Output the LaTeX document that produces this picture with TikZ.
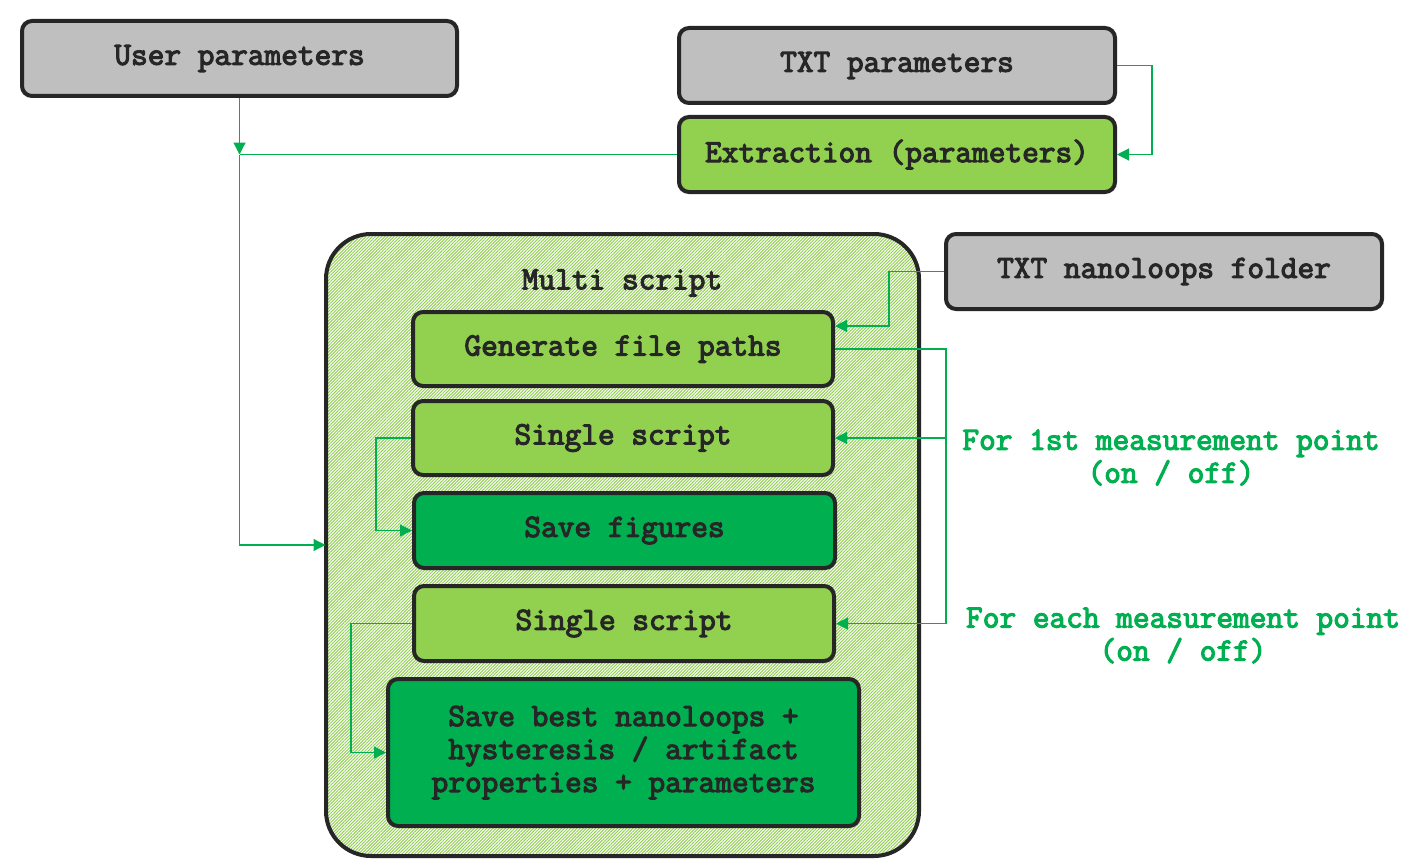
\documentclass[tikz,border=0pt]{standalone}
\usepackage{fontspec}
\newfontfamily\diagfont{Latin Modern Mono}[FakeBold=3.5]
\usetikzlibrary{arrows.meta,patterns.meta}

\definecolor{boxgrey}{HTML}{BFBFBF}
\definecolor{lightgreen}{HTML}{92D050}
\definecolor{darkgreen}{HTML}{00B050}
\definecolor{edgegrey}{HTML}{262626}

\tikzset{
	box/.style={draw=edgegrey, line width=4pt, rounded corners=10pt, inner sep=0pt,
		text=edgegrey, align=center, font=\diagfont\fontsize{32.4pt}{33pt}\selectfont},
	greybox/.style={box, fill=boxgrey, minimum width=436pt, minimum height=75pt},
	stepbox/.style={box, fill=lightgreen, minimum width=421pt, minimum height=75pt},
	savebox/.style={box, fill=darkgreen, minimum width=421pt, minimum height=75pt},
	conn/.style={draw=darkgreen, line width=1.2pt, -{Triangle[length=12pt,width=12pt]}},
	link/.style={draw=darkgreen, line width=1.2pt},
	note/.style={text=darkgreen, align=center, font=\diagfont\fontsize{32.4pt}{33pt}\selectfont}
}

\begin{document}
\begin{tikzpicture}[x=1pt,y=-1pt]
		% fond et cadre
		\fill[white] (0,0) rectangle (1407,864);
		\useasboundingbox (0,0) rectangle (1407,864);

		% bloc principal hachure
		\node[draw=edgegrey, line width=4pt, rounded corners=45pt,
			pattern={Lines[angle=45,distance=2.2pt,line width=1pt]}, pattern color=lightgreen,
			minimum width=593pt, minimum height=622pt] (multi) at (622.5,545) {};
		\node[note, text=edgegrey] (multilabel) at (622,283) {Multi script};

		% entrees
		\node[greybox, minimum width=435pt] (user) at (239.5,58.5) {User parameters};
		\node[greybox] (txtpar) at (897,65.5) {TXT parameters};
		\node[stepbox, minimum width=436pt] (extract) at (897,154.5) {Extraction (parameters)};
		\node[greybox] (nano) at (1164,271.5) {TXT nanoloops folder};

		% etapes du script
		\node[stepbox, minimum width=420pt, minimum height=74pt] (gen) at (623,349) {Generate file paths};
		\node[stepbox, minimum width=420pt, minimum height=74pt] (single1) at (623,438) {Single script};
		\node[savebox] (savefig) at (624.5,530.5) {Save figures};
		\node[stepbox, minimum width=420pt] (single2) at (624,623.5) {Single script};
		\node[savebox, minimum width=471pt, minimum height=147pt] (savebest) at (623.5,752.5)
			{Save best nanoloops +\\hysteresis / artifact\\properties + parameters};

		% commentaires
		\node[note] (note1) at (1171,457.5) {For 1st measurement point\\(on / off)};
		\node[note] (note2) at (1183,635.5) {For each measurement point\\(on / off)};

		% connexions
		\coordinate (junc) at (239.5,154.5);
		\coordinate (bus) at (946,349);
		\draw[conn] (user.south) -- (junc);
		\draw[link] (extract.west) -- (junc);
		\draw[conn] (junc) |- (multi.west);
		\draw[conn] (txtpar.east) -- ++(35,0) |- (extract.east);
		\draw[conn] (nano.west) -- ++(-55,0) |- ([yshift=23pt]gen.east);
		\draw[conn] (gen.east) -- (bus) |- (single2.east);
		\draw[conn] (bus |- single1.east) -- (single1.east);
		\draw[conn] (single1.west) -- ++(-35,0) |- (savefig.west);
		\draw[conn] (single2.west) -- ++(-61,0) |- (savebest.west);
	\end{tikzpicture}
\end{document}
